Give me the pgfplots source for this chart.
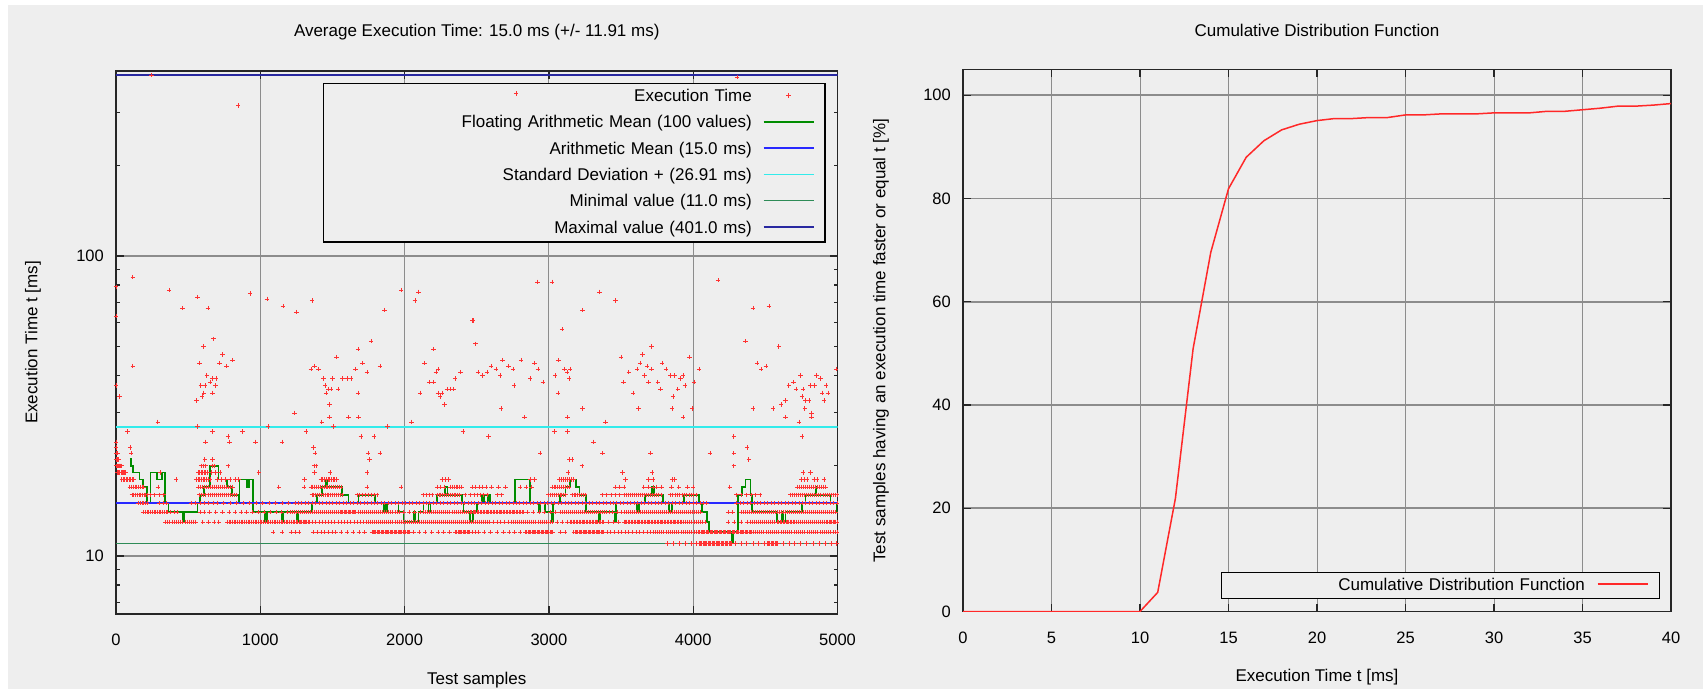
\documentclass[border=0pt]{standalone}
\usepackage{fontspec}
\setmainfont{Liberation Sans}
\usepackage{pgfplots}
\pgfplotsset{compat=1.18}
\definecolor{bgc}{RGB}{238,238,238}
\definecolor{ptred}{RGB}{255,50,50}
\definecolor{fmgreen}{RGB}{0,140,0}
\definecolor{meanblue}{RGB}{40,40,255}
\definecolor{stdcyan}{RGB}{50,235,235}
\definecolor{mingreen}{RGB}{46,139,87}
\definecolor{maxblue}{RGB}{40,40,160}
\definecolor{gridc}{RGB}{140,140,140}
\definecolor{cdfred}{RGB}{255,40,40}
\pgfplotsset{
  lineleg/.style={legend image code/.code={\path[draw=none,fill=none] (0pt,0pt) rectangle (50pt,12pt); \draw[##1] (0pt,6pt) -- (50pt,6pt);}},
  ptleg/.style={legend image code/.code={\path[draw=none,fill=none] (0pt,0pt) rectangle (50pt,12pt); \draw[##1] plot coordinates {(25pt,6pt)};}},
  myax/.style={
    scale only axis,
    tick align=inside, xtick pos=both, ytick pos=both, xticklabel pos=lower, yticklabel pos=left,
    major tick length=8pt, minor tick length=4pt,
    tick style={black!85, line width=1.2pt},
    axis line style={black!85, line width=1.6pt},
    xmajorgrids, ymajorgrids,
    major grid style={gridc, line width=1pt},
    every axis y grid/.append style={line width=1.8pt},
    tick label style={font=\fontsize{16.5}{19}\selectfont},
    /pgf/number format/assume math mode=true,
    /pgf/number format/set thousands separator={},
    every axis title/.style={at={(axis description cs:0.5,1)}, anchor=center, yshift=39pt, font=\fontsize{17}{20}\selectfont},
    every axis x label/.style={at={(axis description cs:0.5,0)}, anchor=center, yshift=-66pt, font=\fontsize{17}{20}\selectfont},
    xticklabel style={anchor=center, yshift=-26pt, inner sep=0pt},
    yticklabel style={anchor=east, xshift=-12pt, inner sep=0pt},
    legend plot pos=right,
    legend style={draw=black, line width=1.2pt, fill=bgc, cells={anchor=base},
      nodes={inner sep=0pt, text height=13pt, text depth=4pt, align=right, font=\fontsize{17}{20}\selectfont}},
  }
}
\begin{document}
\begin{tikzpicture}[x=1pt,y=1pt]
\useasboundingbox (0,0) rectangle (1703,689);
\fill[white] (0,0) rectangle (1703,689);
\fill[bgc] (8,0) rectangle (1703,684);
\begin{axis}[myax, at={(116pt,75pt)}, anchor=south west, width=721.5pt, height=543pt,
  xmin=0, xmax=5000, ymode=log, ymin=6.407, ymax=413.8,
  xtick={0,1000,2000,3000,4000,5000},
  ytick={10,100}, yticklabels={10,100},
  minor ytick={7,8,9,20,30,40,50,60,70,80,90,200,300,400},
  title={Average Execution Time: 15.0 ms (+/- 11.91 ms)},
  xlabel={Test samples}, ylabel={Execution Time t [ms]},
  every axis y label/.style={at={(axis description cs:0,0.5)}, anchor=center, xshift=-83pt, rotate=90, font=\fontsize{17}{20}\selectfont},
  legend style={at={(axis description cs:0.9834,0.9779)}, anchor=north east, inner xsep=10.5pt, inner ysep=5pt, row sep=9.3pt, column sep=11pt, nodes={text width=417.5pt}},
]
\addplot[only marks, mark=+, mark size=2.2pt, color=ptred, mark options={line width=0.55pt}, ptleg] coordinates {
(3822,11) (3861,11) (3905,11) (3948,11) (3990,11) (4022,11) (4040,11) (4049,11) (4058,11) (4067,11) (4076,11) (4085,11) (4094,11) (4103,11) (4112,11) (4121,11) (4130,11) (4139,11) (4148,11) (4157,11) (4166,11) (4175,11) (4184,11) (4193,11) (4202,11) (4211,11) (4220,11) (4229,11) (4238,11) (4247,11) (4256,11) (4265,11) (4292,11) (4334,11) (4371,11) (4415,11) (4452,11) (4490,11) (4512,11) (4521,11) (4530,11) (4539,11) (4548,11) (4557,11) (4566,11) (4575,11) (4584,11) (4623,11) (4664,11) (4702,11) (4741,11) (4786,11) (4829,11) (4871,11) (4915,11) (4958,11) (4994,11)
(1090,12) (1152,12) (1212,12) (1240,12) (1268,12) (1370,12) (1395,12) (1420,12) (1446,12) (1471,12) (1496,12) (1522,12) (1560,12) (1601,12) (1642,12) (1683,12) (1722,12)
(1773,12) (1782,12) (1791,12) (1800,12) (1809,12) (1818,12) (1827,12) (1836,12) (1845,12) (1854,12) (1863,12) (1872,12) (1881,12) (1890,12) (1899,12) (1908,12) (1917,12) (1926,12) (1935,12) (1944,12) (1953,12) (1962,12) (1971,12) (1980,12) (1989,12) (1998,12) (2007,12) (2016,12) (2025,12) (2034,12)
(2062,12) (2101,12) (2143,12) (2188,12) (2231,12) (2269,12) (2312,12)
(2351,12) (2360,12) (2369,12) (2378,12) (2387,12) (2396,12) (2405,12) (2414,12) (2423,12) (2432,12) (2441,12) (2450,12)
(2472,12) (2493,12) (2512,12) (2551,12) (2596,12) (2641,12) (2684,12) (2722,12) (2761,12) (2800,12)
(2837,12) (2846,12) (2855,12) (2864,12) (2873,12) (2882,12) (2891,12) (2900,12) (2909,12) (2918,12) (2927,12) (2936,12) (2945,12) (2954,12) (2963,12) (2972,12) (2981,12) (2990,12) (2999,12) (3008,12) (3017,12) (3026,12)
(3081,12) (3112,12)
(3172,12) (3181,12) (3190,12) (3199,12) (3208,12) (3217,12) (3226,12) (3235,12) (3244,12) (3253,12) (3262,12) (3271,12) (3280,12) (3289,12) (3298,12) (3307,12) (3316,12) (3325,12) (3334,12) (3343,12) (3352,12) (3361,12) (3370,12) (3379,12)
(3402,12) (3427,12) (3452,12) (3478,12) (3503,12) (3528,12) (3553,12) (3578,12) (3604,12) (3629,12) (3654,12) (3679,12)
(3705,12) (3720,12) (3735,12) (3750,12) (3765,12) (3780,12) (3795,12) (3810,12) (3825,12) (3840,12) (3855,12) (3870,12) (3885,12) (3900,12) (3915,12) (3930,12) (3945,12) (3960,12) (3975,12) (3990,12) (4005,12) (4020,12)
(4035,12) (4044,12) (4053,12) (4062,12) (4071,12) (4080,12) (4089,12) (4098,12) (4107,12) (4116,12) (4125,12) (4134,12) (4143,12) (4152,12) (4161,12) (4170,12) (4179,12) (4188,12) (4197,12) (4206,12) (4215,12) (4224,12) (4233,12) (4242,12) (4251,12) (4260,12) (4269,12) (4278,12) (4287,12) (4296,12) (4305,12) (4314,12) (4323,12) (4332,12) (4341,12) (4350,12) (4359,12) (4368,12) (4377,12) (4386,12) (4395,12) (4404,12) (4413,12)
(4428,12) (4443,12) (4458,12) (4473,12) (4488,12) (4503,12) (4518,12) (4533,12) (4548,12) (4563,12) (4578,12) (4593,12) (4608,12) (4623,12) (4638,12) (4653,12) (4668,12) (4683,12) (4698,12) (4713,12) (4728,12) (4743,12) (4758,12) (4773,12) (4788,12) (4803,12) (4818,12) (4833,12) (4848,12) (4863,12) (4878,12) (4893,12) (4908,12) (4923,12) (4938,12) (4953,12) (4968,12) (4983,12) (4998,12)
(342,13) (357,13) (372,13) (387,13) (402,13) (417,13) (432,13) (447,13) (462,13) (477,13) (492,13) (507,13) (522,13) (537,13) (552,13) (601,13) (642,13) (680,13) (712,13)
(770,13) (782,13) (794,13) (806,13) (818,13) (830,13) (842,13) (854,13) (866,13) (878,13) (890,13) (902,13) (914,13) (926,13) (938,13) (950,13) (962,13) (974,13) (986,13) (998,13) (1010,13) (1022,13) (1034,13) (1046,13) (1058,13) (1070,13) (1082,13) (1094,13) (1106,13) (1118,13) (1130,13) (1142,13) (1154,13) (1166,13) (1178,13) (1190,13) (1202,13) (1214,13) (1226,13) (1238,13)
(1250,13) (1259,13) (1268,13) (1277,13) (1286,13) (1295,13) (1304,13) (1313,13) (1322,13) (1331,13) (1340,13)
(1362,13) (1384,13) (1406,13) (1428,13) (1450,13) (1472,13) (1494,13) (1516,13) (1538,13) (1560,13) (1582,13) (1604,13) (1626,13) (1648,13) (1670,13) (1692,13) (1714,13) (1736,13)
(1750,13) (1764,13) (1778,13) (1792,13) (1806,13) (1820,13) (1834,13) (1848,13) (1862,13) (1876,13) (1890,13) (1904,13) (1918,13) (1932,13) (1946,13) (1960,13) (1974,13) (1988,13) (2002,13) (2016,13) (2030,13) (2044,13) (2058,13) (2072,13) (2086,13) (2100,13) (2114,13) (2128,13) (2142,13) (2156,13) (2170,13) (2184,13) (2198,13) (2212,13) (2226,13) (2240,13) (2254,13) (2268,13) (2282,13) (2296,13) (2310,13) (2324,13) (2338,13) (2352,13) (2366,13) (2380,13) (2394,13) (2408,13) (2422,13) (2436,13) (2450,13) (2464,13) (2478,13) (2492,13) (2506,13) (2520,13) (2534,13) (2548,13) (2562,13) (2576,13) (2590,13)
(2615,13) (2640,13) (2665,13) (2690,13) (2715,13) (2740,13)
(2755,13) (2769,13) (2783,13) (2797,13) (2811,13) (2825,13) (2839,13) (2853,13) (2867,13) (2881,13) (2895,13) (2909,13) (2923,13) (2937,13) (2951,13) (2965,13) (2979,13) (2993,13) (3007,13) (3021,13)
(3055,13) (3090,13) (3125,13)
(3148,13) (3158,13) (3168,13) (3178,13) (3188,13) (3198,13) (3208,13) (3218,13) (3228,13) (3238,13) (3248,13) (3258,13) (3268,13) (3278,13) (3288,13) (3298,13) (3308,13) (3318,13) (3328,13) (3338,13) (3348,13) (3358,13) (3368,13) (3378,13)
(3412,13) (3447,13) (3482,13)
(3519,13) (3529,13) (3539,13) (3549,13) (3559,13) (3569,13) (3579,13) (3589,13) (3599,13) (3609,13) (3619,13) (3629,13) (3639,13) (3649,13) (3659,13) (3669,13) (3679,13) (3689,13) (3699,13) (3709,13) (3719,13) (3729,13) (3739,13) (3749,13) (3759,13) (3769,13) (3779,13) (3789,13) (3799,13) (3809,13) (3819,13) (3829,13) (3839,13) (3849,13) (3859,13) (3869,13) (3879,13) (3889,13) (3899,13) (3909,13) (3919,13) (3929,13)
(3944,13) (3959,13) (3974,13) (3989,13) (4004,13) (4019,13) (4034,13) (4049,13) (4064,13) (4082,13) (4243,13) (4282,13) (4331,13) (4372,13)
(4397,13) (4411,13) (4425,13) (4439,13) (4453,13) (4467,13) (4481,13) (4495,13) (4509,13) (4523,13) (4537,13) (4551,13) (4565,13)
(4582,13) (4592,13) (4602,13) (4612,13) (4622,13) (4632,13) (4642,13) (4652,13) (4662,13) (4672,13) (4682,13) (4692,13) (4702,13) (4712,13)
(4726,13) (4740,13) (4754,13) (4768,13) (4782,13) (4796,13) (4810,13) (4824,13) (4838,13) (4852,13) (4866,13) (4880,13) (4894,13) (4908,13) (4922,13)
(4932,13) (4941,13) (4950,13) (4959,13) (4968,13) (4977,13) (4986,13) (4995,13)
(190,14) (202,14) (214,14) (226,14) (238,14) (250,14) (262,14) (274,14) (286,14) (298,14) (310,14) (322,14) (334,14) (346,14) (358,14)
(377,14) (401,14) (422,14) (582,14) (611,14) (648,14) (691,14) (738,14)
(784,14) (826,14) (866,14) (905,14) (947,14) (988,14) (1027,14) (1068,14) (1110,14) (1148,14) (1190,14)
(1207,14) (1221,14) (1235,14) (1249,14) (1263,14) (1277,14) (1291,14) (1305,14) (1319,14) (1333,14) (1347,14) (1361,14) (1375,14) (1389,14) (1403,14) (1417,14) (1431,14) (1445,14) (1459,14) (1473,14) (1487,14) (1501,14) (1515,14) (1529,14) (1543,14)
(1553,14) (1562,14) (1571,14) (1580,14) (1589,14) (1598,14) (1607,14) (1616,14) (1625,14) (1634,14) (1643,14) (1652,14) (1661,14)
(1680,14) (1694,14) (1708,14) (1722,14) (1736,14) (1750,14) (1764,14) (1778,14) (1792,14) (1806,14) (1820,14) (1834,14) (1848,14) (1862,14) (1876,14) (1890,14) (1904,14) (1918,14) (1932,14) (1946,14) (1960,14)
(1992,14) (2031,14) (2069,14) (2108,14)
(2131,14) (2145,14) (2159,14) (2173,14) (2187,14) (2201,14) (2215,14) (2229,14) (2243,14) (2257,14) (2271,14) (2285,14) (2299,14) (2313,14) (2327,14) (2341,14) (2355,14) (2369,14) (2383,14) (2397,14) (2411,14) (2425,14) (2439,14) (2453,14)
(2463,14) (2473,14) (2483,14) (2493,14) (2503,14) (2513,14) (2523,14) (2533,14) (2543,14) (2553,14) (2563,14) (2573,14) (2583,14) (2593,14) (2603,14) (2613,14) (2623,14) (2633,14) (2643,14) (2653,14) (2663,14) (2673,14) (2683,14) (2693,14) (2703,14) (2713,14) (2723,14) (2733,14) (2743,14) (2753,14) (2763,14) (2773,14) (2783,14) (2793,14) (2803,14) (2813,14) (2823,14)
(2851,14) (2889,14) (2931,14) (2968,14) (3010,14) (3045,14)
(3079,14) (3093,14) (3107,14) (3121,14) (3135,14) (3149,14) (3163,14) (3177,14) (3191,14) (3205,14) (3219,14) (3233,14) (3247,14) (3261,14) (3275,14) (3289,14) (3303,14) (3317,14) (3331,14) (3345,14) (3359,14) (3373,14) (3387,14) (3401,14) (3415,14)
(3442,14) (3471,14) (3500,14)
(3519,14) (3533,14) (3547,14) (3561,14) (3575,14) (3589,14) (3603,14) (3617,14) (3631,14) (3645,14) (3659,14) (3673,14) (3687,14) (3701,14) (3715,14) (3729,14) (3743,14) (3757,14) (3771,14) (3785,14) (3799,14) (3813,14) (3827,14) (3841,14) (3855,14) (3869,14) (3883,14) (3897,14) (3911,14) (3925,14) (3939,14) (3953,14) (3967,14) (3981,14) (3995,14) (4009,14) (4023,14) (4037,14) (4051,14)
(4242,14) (4271,14)
(4330,14) (4344,14) (4358,14) (4372,14) (4386,14) (4400,14) (4414,14) (4428,14) (4442,14) (4456,14) (4470,14) (4484,14) (4498,14) (4512,14) (4526,14) (4540,14) (4554,14) (4568,14) (4582,14) (4596,14) (4610,14) (4624,14) (4638,14) (4652,14) (4666,14) (4680,14) (4694,14) (4708,14) (4722,14) (4736,14) (4750,14) (4764,14) (4778,14) (4792,14) (4806,14) (4820,14) (4834,14) (4848,14) (4862,14) (4876,14) (4890,14) (4904,14) (4918,14) (4932,14) (4946,14) (4960,14) (4974,14) (4988,14)
(155,15) (167,15) (179,15) (191,15) (203,15) (215,15) (302,15) (331,15) (350,15)
(522,15) (551,15) (583,15) (612,15) (641,15) (672,15) (700,15)
(745,15) (790,15) (836,15) (880,15) (926,15) (971,15) (1015,15) (1061,15) (1106,15) (1150,15) (1196,15) (1240,15)
(1262,15) (1286,15) (1310,15) (1334,15) (1358,15) (1382,15) (1406,15) (1430,15) (1454,15) (1478,15) (1502,15) (1526,15) (1550,15) (1574,15) (1598,15) (1622,15) (1646,15) (1670,15) (1694,15) (1718,15) (1742,15) (1766,15) (1790,15) (1814,15) (1838,15) (1862,15) (1886,15) (1910,15) (1934,15) (1958,15) (1982,15) (2006,15) (2030,15) (2054,15) (2078,15) (2102,15) (2126,15) (2150,15) (2174,15) (2198,15) (2222,15) (2246,15) (2270,15) (2294,15) (2318,15) (2342,15) (2366,15) (2390,15) (2414,15) (2438,15) (2462,15) (2486,15) (2510,15) (2534,15) (2558,15) (2582,15) (2606,15) (2630,15) (2654,15) (2678,15) (2702,15) (2726,15) (2750,15) (2774,15) (2798,15) (2822,15) (2846,15) (2870,15) (2894,15) (2918,15) (2942,15) (2966,15) (2990,15) (3014,15) (3038,15) (3062,15) (3086,15) (3110,15) (3134,15) (3158,15) (3182,15) (3206,15) (3230,15) (3254,15) (3278,15) (3302,15) (3326,15) (3350,15) (3374,15) (3398,15) (3422,15) (3446,15) (3470,15) (3494,15) (3518,15) (3542,15) (3566,15) (3590,15) (3614,15) (3638,15) (3662,15) (3686,15) (3710,15) (3734,15) (3758,15) (3782,15) (3806,15) (3830,15) (3854,15) (3878,15) (3902,15) (3926,15) (3950,15) (3974,15) (3998,15) (4022,15) (4046,15) (4070,15) (4094,15)
(4300,15) (4324,15) (4348,15) (4372,15) (4396,15) (4420,15) (4444,15) (4468,15) (4492,15) (4516,15) (4540,15) (4564,15) (4588,15) (4612,15) (4636,15) (4660,15) (4684,15) (4708,15) (4732,15) (4756,15) (4780,15) (4804,15) (4828,15) (4852,15) (4876,15) (4900,15) (4924,15) (4948,15) (4972,15) (4996,15)
(110,16) (122,16) (134,16) (146,16) (158,16) (170,16) (182,16) (194,16) (206,16) (218,16) (236,16) (268,16) (301,16) (330,16)
(580,16) (594,16) (608,16) (622,16) (636,16) (650,16) (664,16) (678,16) (692,16) (706,16) (720,16) (734,16) (748,16) (762,16) (776,16) (790,16) (804,16) (818,16) (832,16)
(1357,16) (1370,16) (1383,16) (1396,16) (1409,16) (1422,16) (1435,16) (1448,16) (1461,16) (1474,16) (1487,16) (1500,16) (1513,16) (1526,16) (1539,16) (1552,16) (1565,16)
(1669,16) (1689,16) (1709,16) (1729,16) (1749,16) (1769,16) (1789,16) (1808,16) (2131,16) (2151,16) (2171,16) (2191,16)
(2224,16) (2237,16) (2250,16) (2263,16) (2276,16) (2289,16) (2302,16) (2315,16) (2328,16) (2341,16) (2354,16) (2367,16) (2380,16)
(2420,16) (2452,16) (2481,16) (2503,16) (2525,16) (2548,16) (2570,16) (2640,16) (2671,16)
(2998,16) (3011,16) (3024,16) (3037,16) (3050,16) (3063,16) (3076,16) (3089,16) (3102,16) (3115,16)
(3160,16) (3173,16) (3186,16) (3199,16) (3212,16) (3225,16) (3238,16) (3251,16) (3371,16) (3399,16) (3431,16) (3462,16) (3490,16)
(3519,16) (3533,16) (3547,16) (3561,16) (3575,16) (3589,16) (3603,16) (3617,16) (3631,16) (3645,16) (3659,16) (3673,16) (3687,16) (3701,16) (3715,16) (3729,16) (3743,16) (3760,16) (3778,16)
(3842,16) (3858,16) (3874,16) (3890,16) (3906,16) (3922,16) (3938,16) (3954,16) (3970,16) (3986,16) (4002,16) (4018,16)
(4300,16) (4331,16) (4369,16) (4400,16) (4431,16) (4462,16)
(4674,16) (4688,16) (4702,16) (4716,16) (4730,16) (4744,16) (4758,16) (4772,16) (4786,16) (4800,16) (4814,16) (4828,16) (4842,16) (4856,16) (4870,16) (4884,16) (4898,16) (4912,16) (4926,16) (4940,16) (4954,16) (4968,16) (4982,16) (4996,16)
(95,17) (107,17) (119,17) (131,17) (143,17) (155,17) (167,17) (179,17) (190,17) (290,17)
(570,17) (584,17) (598,17) (612,17) (626,17) (640,17) (654,17) (668,17) (682,17) (696,17) (710,17) (724,17) (738,17) (752,17) (766,17) (780,17) (794,17) (808,17) (1128,17) (1304,17)
(1350,17) (1363,17) (1376,17) (1389,17) (1402,17) (1415,17) (1428,17) (1441,17) (1454,17) (1467,17) (1480,17) (1493,17) (1506,17) (1519,17) (1532,17) (1545,17) (1558,17)
(1738,17) (1977,17) (2225,17) (2250,17) (2275,17) (2316,17) (2329,17) (2342,17) (2355,17) (2368,17) (2381,17) (2394,17)
(2470,17) (2490,17) (2515,17) (2540,17) (2566,17) (2601,17) (2650,17) (2700,17) (2800,17) (2840,17) (2880,17)
(3021,17) (3034,17) (3047,17) (3060,17) (3073,17) (3086,17) (3099,17) (3112,17) (3125,17) (3138,17)
(3461,17) (3490,17) (3519,17) (3657,17) (3690,17) (3720,17) (3745,17) (3780,17) (3850,17) (3900,17) (3960,17) (4000,17) (4253,17)
(4720,17) (4734,17) (4748,17) (4762,17) (4776,17) (4790,17) (4804,17) (4818,17) (4832,17) (4846,17) (4860,17) (4874,17) (4888,17) (4902,17) (4916,17)
(40,18) (50,18) (60,18) (70,18) (80,18) (90,18) (100,18) (110,18) (120,18) (416,18) (555,18) (567,18) (579,18) (591,18) (603,18) (615,18) (627,18) (639,18) (651,18) (700,18) (730,18) (760,18) (790,18) (825,18) (850,18)
(1306,18) (1420,18) (1432,18) (1444,18) (1456,18) (1468,18) (1480,18) (1492,18) (1504,18) (1516,18) (1528,18) (2258,18) (2280,18) (2305,18) (2871,18) (2900,18)
(3074,18) (3088,18) (3102,18) (3116,18) (3130,18) (3144,18) (3158,18) (3172,18) (3530,18) (3690,18) (3722,18) (3853,18) (3870,18) (4750,18) (4767,18) (4790,18) (4836,18) (4859,18) (4905,18)
(10,19) (18,19) (26,19) (34,19) (42,19) (50,19) (58,19) (66,19) (305,19) (570,19) (580,19) (590,19) (600,19) (610,19) (620,19) (630,19) (660,19) (690,19) (720,19) (989,19) (1375,19) (1484,19) (1741,19) (3134,19) (3509,19) (3715,19) (4762,19) (4813,19)
(0,20) (8,20) (16,20) (24,20) (32,20) (40,20) (590,20) (605,20) (620,20) (665,20) (680,20) (777,20) (1373,20) (1387,20) (3229,20) (4281,20)
(0,21) (8,21) (16,21) (615,21) (668,21) (1757,21) (3141,21) (3160,21) (4385,21)
(0,22) (10,22) (106,22) (1380,22) (1747,22) (1828,22) (2940,22) (3372,22) (3703,22) (4115,22) (4281,22)
(0,23) (97,23) (1369,23) (4374,23)
(0,24) (620,24) (786,24) (966,24) (1151,24) (3310,24)
(777,25) (1697,25) (1789,25) (2582,25) (4281,25) (4755,25)
(79,26) (668,26) (878,26) (1318,26) (2404,26) (3038,26) (3130,26)
(564,27) (1052,27) (1508,27) (1882,27)
(289,28) (1426,28) (2048,28) (3391,28) (4732,28)
(1480,29) (1611,29) (1681,29) (2832,29) (3130,29) (3930,29) (4639,29) (4820,29)
(1236,30) (4820,30)
(0,79) (0,63) (0,37) (23,34) (116,85) (116,43) (368,77) (564,73) (462,67) (636,67) (929,75) (1045,72) (1156,68) (1250,65) (677,53) (606,50) (737,47) (807,45) (578,44) (717,44) (767,43) (629,40) (666,39) (693,39) (652,38) (587,37) (617,37) (689,37) (608,35) (668,35) (596,34) (559,33)
(1977,77) (2097,76) (2071,71) (1359,71) (1861,66) (2469,61) (1768,52) (1678,49) (2201,49) (1528,46) (1829,43) (1708,44) (2138,44) (1375,43) (1350,42) (1403,42) (1660,42) (1738,41) (2233,42) (2217,41) (2388,41) (1438,39) (1500,39) (1570,39) (1600,39) (1630,39) (2349,39) (1449,37) (2170,38) (2201,38) (1473,36) (1491,36) (1540,36) (2293,36) (2316,36) (2339,36) (1456,35) (1678,35) (2108,35) (2231,35) (2258,35) (2247,34) (1480,32) (2277,32)
(2922,82) (3021,82) (3350,76) (3461,71) (3234,66) (2473,61) (3091,57) (2490,51) (3712,50) (3500,46) (3650,47) (2679,45) (2808,45) (3067,45) (3632,44) (2600,43) (2720,43) (2900,44) (3611,42) (3680,43) (3710,42) (2633,42) (2751,42) (2924,42) (3109,42) (3148,42) (2510,41) (2570,41) (3126,41) (2540,40) (2663,40) (3042,40) (3553,41) (3662,40) (2871,39) (3141,39) (2958,38) (3518,38) (3691,38) (2758,37) (3063,35) (3583,35) (2670,31) (3234,31) (3622,31)
(4173,83) (4413,67) (4524,68) (4362,52) (4593,50) (3974,46) (3784,44) (4443,44) (4503,43) (4470,42) (3812,42) (4041,42) (4991,42) (3842,40) (3872,40) (3930,40) (4743,40) (4854,40) (3754,38) (4004,38) (3911,39) (4882,39) (4662,37) (4696,38) (4813,37) (4841,37) (4922,37) (3942,37) (3773,36) (3893,36) (4713,36) (4762,36) (4894,35) (4933,35) (3860,34) (4755,34) (4639,33) (4609,32) (4778,33) (4801,33) (4905,33) (3854,31) (3992,31) (4413,31) (4554,31) (4773,31)
(245,401) (847,318) (4353,113) (4304,395)
};
\addlegendentry{Execution Time}
\addplot[const plot, color=fmgreen, line width=1.7pt, lineleg] coordinates {
(97,21) (105,20) (120,19) (162,18) (185,17) (213,15) (240,19) (282,18) (317,19) (340,15) (363,14) (462,13) (472,14) (564,15) (582,16) (610,17) (652,20) (710,18) (767,17) (802,16) (849,15) (855,18) (906,17) (924,18) (948,14) (1033,13) (1045,14) (1149,13) (1160,14) (1253,13) (1262,14) (1357,15) (1392,16) (1426,17) (1456,18) (1463,17) (1565,16) (1611,15) (1680,16) (1796,15) (1854,14) (1860,15) (1866,14) (1878,15) (1958,14) (1993,13) (2067,14) (2075,13) (2097,14) (2131,15) (2166,14) (2180,15) (2224,16) (2281,17) (2297,16) (2397,15) (2409,14) (2455,13) (2473,14) (2501,15) (2536,16) (2545,15) (2553,16) (2580,15) (2586,16) (2594,15) (2767,18) (2871,15) (2929,14) (2940,15) (2975,14) (3021,13) (3028,15) (3079,16) (3114,17) (3148,18) (3190,17) (3213,16) (3259,14) (3345,13) (3356,14) (3454,13) (3465,15) (3611,14) (3625,15) (3668,16) (3715,17) (3726,16) (3791,15) (3831,14) (3853,15) (3934,16) (4038,15) (4061,14) (4096,13) (4108,12) (4270,11) (4277,12) (4310,16) (4339,17) (4362,18) (4397,16) (4408,14) (4582,13) (4616,14) (4625,13) (4640,14) (4755,15) (4778,16) (4847,17) (4852,16) (4951,15) (4993,14) (5000,14)
};
\addlegendentry{Floating Arithmetic Mean (100 values)}
\addplot[meanblue, line width=1.6pt, lineleg] coordinates {(0,15) (5000,15)};
\addlegendentry{Arithmetic Mean (15.0 ms)}
\addplot[stdcyan, line width=1.6pt, lineleg] coordinates {(0,26.91) (5000,26.91)};
\addlegendentry{Standard Deviation + (26.91 ms)}
\addplot[mingreen, line width=1.4pt, lineleg] coordinates {(0,11) (5000,11)};
\addlegendentry{Minimal value (11.0 ms)}
\addplot[maxblue, line width=1.6pt, lineleg] coordinates {(0,401) (5000,401)};
\addlegendentry{Maximal value (401.0 ms)}
\end{axis}
\begin{axis}[at={(116pt,75pt)}, anchor=south west, width=721.5pt, height=543pt, scale only axis,
  xmin=0, xmax=5000, ymode=log, ymin=6.407, ymax=413.8, hide axis]
\addplot[only marks, mark=+, mark size=2.2pt, color=ptred, mark options={line width=0.55pt}] coordinates {(2772,348)};
\end{axis}
\begin{axis}[myax, at={(963pt,77.5pt)}, anchor=south west, width=708pt, height=542pt,
  xmin=0, xmax=40, ymin=0, ymax=105,
  xtick={0,5,10,15,20,25,30,35,40}, ytick={0,20,40,60,80,100},
  title={Cumulative Distribution Function},
  xlabel={Execution Time t [ms]},
  ylabel={Test samples having an execution time faster or equal t [\%]},
  every axis y label/.style={at={(axis description cs:0,0.5)}, anchor=center, xshift=-82pt, rotate=90, font=\fontsize{17}{20}\selectfont},
  legend style={at={(axis description cs:0.9849,0.0227)}, anchor=south east, inner xsep=11.3pt, inner ysep=4.5pt, column sep=12pt, nodes={text width=352pt}},
]
\addplot[cdfred, line width=1.5pt, lineleg] coordinates {
(0,0) (1,0) (2,0) (3,0) (4,0) (5,0) (6,0) (7,0) (8,0) (9,0) (10,0) (11,3.7) (12,21.9) (13,50.9) (14,69.6) (15,81.9) (16,88.0) (17,91.2) (18,93.3) (19,94.4) (20,95.1) (21,95.5) (22,95.5) (23,95.7) (24,95.7) (25,96.2) (26,96.2) (27,96.4) (28,96.4) (29,96.4) (30,96.6) (31,96.6) (32,96.6) (33,96.9) (34,96.9) (35,97.2) (36,97.5) (37,97.9) (38,97.9) (39,98.1) (40,98.4)
};
\addlegendentry{Cumulative Distribution Function}
\end{axis}
\end{tikzpicture}
\end{document}
